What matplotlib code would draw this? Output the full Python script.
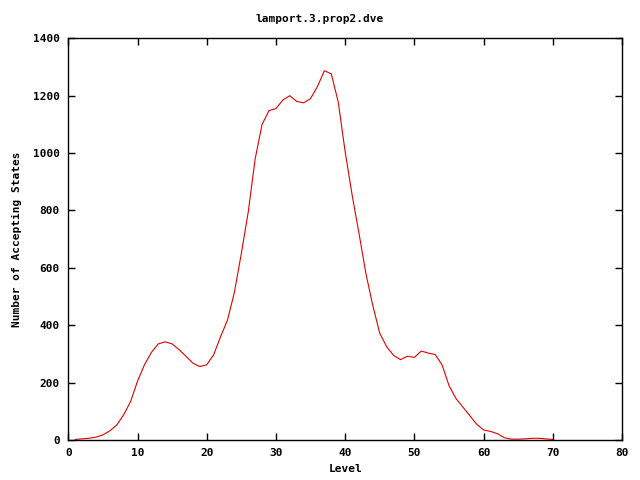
import matplotlib
matplotlib.use("Agg")
import matplotlib.pyplot as plt

# --------------------------
# Data
# --------------------------
levels = list(range(1, 71))
accepting_states = [
    2, 4, 6, 10, 18, 32, 52, 88, 134, 205,
    262, 305, 335, 342, 335, 315, 292, 268, 256, 262,
    297, 360, 418, 515, 650, 795, 980, 1100, 1148, 1155,
    1185, 1200, 1180, 1175, 1190, 1232, 1287, 1276, 1178, 1005,
    855, 720, 580, 468, 372, 325, 295, 280, 292, 288,
    310, 303, 298, 262, 190, 145, 115, 85, 55, 35,
    30, 22, 8, 3, 3, 4, 6, 6, 4, 2,
]

title = "lamport.3.prop2.dve"
x_ticks = list(range(0, 81, 10))
y_ticks = list(range(0, 1401, 200))

# --------------------------
# Plot
# --------------------------
plt.rcParams["font.family"] = ["DejaVu Sans Mono"]
plt.rcParams["font.weight"] = "bold"
plt.rcParams["font.size"] = 8

fig = plt.figure(figsize=(6.4, 4.8), dpi=100)
ax = fig.add_axes([0.1067, 0.0833, 0.8652, 0.8369])

ax.plot(levels, accepting_states, color="#e00000", linewidth=0.8)

ax.set_xlim(0, 80)
ax.set_ylim(0, 1400)
ax.set_xticks(x_ticks)
ax.set_yticks(y_ticks)
ax.tick_params(direction="in", top=True, right=True, length=5, width=1, pad=6)
for s in ax.spines.values():
    s.set_linewidth(1)

fig.text(0.5, 0.96, title, ha="center", va="center", fontweight="bold", fontsize=8)
ax.set_xlabel("Level", fontweight="bold", labelpad=4)
ax.set_ylabel("Number of Accepting States", fontweight="bold", labelpad=8)

plt.savefig("out.png", dpi=100)
plt.close()
